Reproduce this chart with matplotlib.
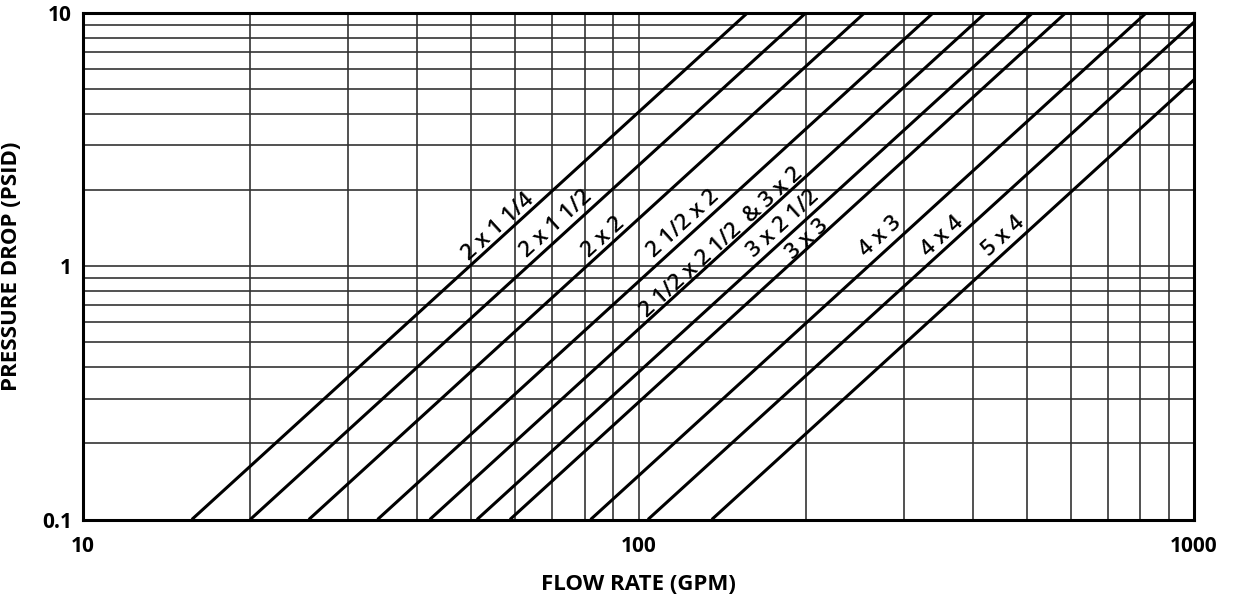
import matplotlib
matplotlib.use("Agg")
import matplotlib.pyplot as plt
from matplotlib.ticker import FixedLocator, NullFormatter, FixedFormatter

# ---- data ----
sizes = ["2 x 1 1/4", "2 x 1 1/2", "2 x 2", "2 1/2 x 2", "2 1/2 x 2 1/2  & 3 x 2",
         "3 x 2 1/2", "3 x 3", "4 x 3", "4 x 4", "5 x 4"]
# flow (GPM) at start point and end point of each curve
flow_start = [15.7, 20.0, 25.5, 33.9, 42.1, 51.2, 58.7, 82.0, 104.0, 135.5]
dp_start = [0.1, 0.1, 0.1, 0.1, 0.1, 0.1, 0.1, 0.1, 0.1, 0.1]
flow_end = [157.0, 200.0, 255.0, 339.0, 421.0, 512.0, 587.0, 820.0, 1000.0, 1000.0]
dp_end = [10.0, 10.0, 10.0, 10.0, 10.0, 10.0, 10.0, 10.0, 9.2, 5.45]

x_ticks = [10, 100, 1000]
x_tick_labels = ["10", "100", "1000"]
y_ticks = [0.1, 1, 10]
y_tick_labels = ["0.1", "1", "10"]

# ---- layout: label anchors (flow, psid) ----
label_pos = [(55.9, 1.43), (71.1, 1.47), (86.4, 1.30), (120.6, 1.47), (141.0, 1.24),
             (182.0, 1.47), (201.0, 1.28), (272.0, 1.31), (352.0, 1.31), (454.0, 1.31)]

plt.rcParams['font.family'] = ['Open Sans', 'DejaVu Sans']

fig = plt.figure(figsize=(12.52, 6.02), dpi=100)
ax = fig.add_axes([83/1252, 1-519.5/602, (1194-83)/1252, (519.5-13)/602])
ax.set_xscale('log')
ax.set_yscale('log')
ax.set_xlim(10, 1000)
ax.set_ylim(0.1, 10)

minor_x = [v * d for d in (10, 100) for v in range(2, 10)]
minor_y = [v * d for d in (0.1, 1) for v in range(2, 10)]
ax.xaxis.set_major_locator(FixedLocator(x_ticks))
ax.xaxis.set_major_formatter(FixedFormatter(x_tick_labels))
ax.xaxis.set_minor_locator(FixedLocator(minor_x))
ax.xaxis.set_minor_formatter(NullFormatter())
ax.yaxis.set_major_locator(FixedLocator(y_ticks))
ax.yaxis.set_major_formatter(FixedFormatter(y_tick_labels))
ax.yaxis.set_minor_locator(FixedLocator(minor_y))
ax.yaxis.set_minor_formatter(NullFormatter())

ax.grid(True, which='both', color='#333333', linewidth=1.2)
ax.set_axisbelow(True)
ax.tick_params(which='both', length=0)
ax.tick_params(axis='x', pad=12, labelsize=15)
ax.tick_params(axis='y', pad=8, labelsize=15)
for lab in ax.get_xticklabels() + ax.get_yticklabels():
    lab.set_fontweight('bold')
for s in ax.spines.values():
    s.set_linewidth(2.2)
    s.set_color('black')

for xs, ys, xe, ye in zip(flow_start, dp_start, flow_end, dp_end):
    ax.plot([xs, xe], [ys, ye], color='black', linewidth=2.2, solid_capstyle='butt', clip_on=True)

for name, (lx, ly) in zip(sizes, label_pos):
    ax.text(lx, ly, name, rotation=42.4, rotation_mode='anchor', ha='center', va='center',
            fontsize=16, fontweight='semibold', color='black')

ax.set_xlabel("FLOW RATE (GPM)", fontsize=16, fontweight='bold', labelpad=12)
ax.set_ylabel("PRESSURE DROP (PSID)", fontsize=16, fontweight='bold', labelpad=14)

fig.savefig("out.png", dpi=100)
